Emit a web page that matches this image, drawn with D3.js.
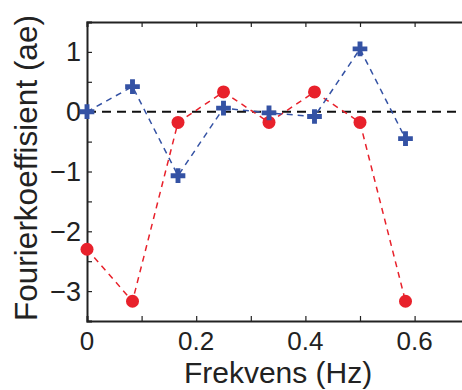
<!DOCTYPE html>
<html lang="en">
<head>
    <meta charset="UTF-8">
    <title>Fourierkoeffisient</title>
    <script src="https://d3js.org/d3.v7.min.js"></script>
    <style>
        body { margin: 0; padding: 0; background: #fff; }
        svg { display: block; font-family: "Liberation Sans", Arial, sans-serif; }
    </style>
</head>
<body>
    <svg width="462" height="390"></svg>

    <script>
        // frequencies k/12 Hz
        const freqs = [0, 1/12, 2/12, 3/12, 4/12, 5/12, 6/12, 7/12];
        const blueVals = [0, 0.42, -1.07, 0.06, -0.02, -0.08, 1.05, -0.45];
        const redVals = [-2.30, -3.17, -0.18, 0.33, -0.18, 0.33, -0.18, -3.17];
        const xTickLabels = [0, 0.2, 0.4, 0.6];
        const yTickLabels = [1, 0, -1, -2, -3];

        const svg = d3.select("svg");
        const plotLeft = 87, plotTop = 22, plotBottom = 321;

        const x = d3.scaleLinear().domain([0, 0.7]).range([plotLeft, plotLeft + 0.7 * 546]);
        const y = d3.scaleLinear().domain([-3.5, 1.5]).range([plotBottom, plotTop]);

        const minorX = d3.range(0, 0.71, 0.1);
        const minorY = d3.range(-3.5, 1.51, 0.5);

        // axes (ticks inward)
        svg.append("g")
            .attr("transform", `translate(0,${plotBottom})`)
            .call(d3.axisBottom(x).tickValues(minorX).tickSize(-5).tickFormat(""))
            .call(g => g.select(".domain").attr("stroke-width", 2));
        svg.append("g")
            .attr("transform", `translate(0,${plotTop})`)
            .call(d3.axisTop(x).tickValues(minorX).tickSize(-5).tickFormat(""))
            .call(g => g.select(".domain").attr("stroke-width", 2));
        svg.append("g")
            .attr("transform", `translate(${plotLeft},0)`)
            .call(d3.axisLeft(y).tickValues(minorY).tickSize(-5).tickFormat(""))
            .call(g => g.select(".domain").attr("stroke-width", 2));

        svg.selectAll("path.domain").attr("stroke", "#222");
        svg.selectAll(".tick line").attr("stroke", "#222").attr("stroke-width", 1.2);

        // tick labels
        svg.selectAll(".xlab")
            .data(xTickLabels)
            .enter().append("text")
            .attr("x", d => x(d))
            .attr("y", 350)
            .attr("text-anchor", "middle")
            .attr("font-size", 26)
            .attr("fill", "#222")
            .text(d => d === 0 ? "0" : d.toFixed(1));

        svg.selectAll(".ylab")
            .data(yTickLabels)
            .enter().append("text")
            .attr("x", 81)
            .attr("y", d => y(d) + 9.5)
            .attr("text-anchor", "end")
            .attr("font-size", 27)
            .attr("fill", "#222")
            .text(d => d < 0 ? "\u2212" + Math.abs(d) : String(d));

        // axis titles
        svg.append("text")
            .attr("x", (x(0) + x(0.7)) / 2)
            .attr("y", 383)
            .attr("text-anchor", "middle")
            .attr("font-size", 30)
            .attr("fill", "#222")
            .text("Frekvens (Hz)");
        svg.append("text")
            .attr("transform", `translate(37,168) rotate(-90)`)
            .attr("text-anchor", "middle")
            .attr("font-size", 31.5)
            .attr("fill", "#222")
            .text("Fourierkoeffisient (ae)");

        // zero line
        svg.append("line")
            .attr("x1", x(0)).attr("x2", 462)
            .attr("y1", y(0)).attr("y2", y(0))
            .attr("stroke", "#111")
            .attr("stroke-width", 2)
            .attr("stroke-dasharray", "9,6");

        const line = d3.line().x(d => x(d[0])).y(d => y(d[1]));
        const redData = freqs.map((f, i) => [f, redVals[i]]);
        const blueData = freqs.map((f, i) => [f, blueVals[i]]);

        svg.append("path")
            .datum(redData)
            .attr("d", line)
            .attr("fill", "none")
            .attr("stroke", "#e8212b")
            .attr("stroke-width", 1.5)
            .attr("stroke-dasharray", "6,5");
        svg.append("path")
            .datum(blueData)
            .attr("d", line)
            .attr("fill", "none")
            .attr("stroke", "#3452a4")
            .attr("stroke-width", 1.5)
            .attr("stroke-dasharray", "6,5");

        svg.selectAll(".red")
            .data(redData)
            .enter().append("circle")
            .attr("cx", d => x(d[0]))
            .attr("cy", d => y(d[1]))
            .attr("r", 6.5)
            .attr("fill", "#e8212b");

        svg.selectAll(".blue")
            .data(blueData)
            .enter().append("path")
            .attr("transform", d => `translate(${x(d[0])},${y(d[1])})`)
            .attr("d", d3.symbol(d3.symbolCross, 120))
            .attr("fill", "#3452a4");
    </script>
</body>
</html>
